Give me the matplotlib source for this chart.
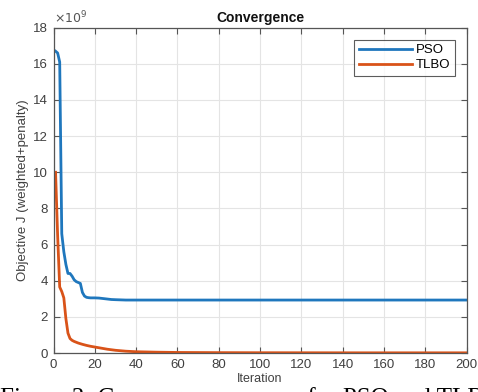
import matplotlib
matplotlib.use("Agg")
import matplotlib.pyplot as plt
from matplotlib.ticker import FuncFormatter

# ---- data (values in units of the objective J) ----
pso_iter = [1, 2, 3, 4, 5, 6, 7, 8, 9, 10, 11, 12, 13, 14, 15, 16, 17, 18, 20, 22,
            25, 28, 30, 35, 40, 60, 100, 150, 200]
pso_val = [16.7e9, 16.6e9, 16.1e9, 6.6e9, 5.6e9, 4.9e9, 4.4e9, 4.4e9, 4.25e9, 4.05e9,
           3.95e9, 3.9e9, 3.85e9, 3.35e9, 3.15e9, 3.08e9, 3.06e9, 3.05e9, 3.05e9, 3.04e9,
           3.0e9, 2.96e9, 2.95e9, 2.93e9, 2.93e9, 2.93e9, 2.93e9, 2.93e9, 2.93e9]

tlbo_iter = [1, 2, 3, 4, 5, 6, 7, 8, 9, 10, 12, 14, 16, 18, 20, 23, 26, 30, 35, 40,
             50, 60, 80, 100, 150, 200]
tlbo_val = [10.0e9, 6.5e9, 3.65e9, 3.4e9, 3.05e9, 1.9e9, 1.1e9, 0.8e9, 0.7e9, 0.64e9,
            0.55e9, 0.48e9, 0.42e9, 0.37e9, 0.33e9, 0.27e9, 0.21e9, 0.15e9, 0.1e9, 0.07e9,
            0.045e9, 0.03e9, 0.02e9, 0.015e9, 0.01e9, 0.01e9]

series_names = ["PSO", "TLBO"]
x_ticks = [0, 20, 40, 60, 80, 100, 120, 140, 160, 180, 200]
y_ticks = [0, 2e9, 4e9, 6e9, 8e9, 10e9, 12e9, 14e9, 16e9, 18e9]

title = "Convergence"
xlabel = "Iteration"
ylabel = "Objective J (weighted+penalty)"
caption = "Figure 3: Convergence curves for PSO and TLBO"

plt.rcParams['font.family'] = ['Liberation Sans', 'DejaVu Sans']

fig = plt.figure(figsize=(4.78, 3.92), dpi=100)
ax = fig.add_axes([53.5 / 478, 1 - 353 / 392, (466.7 - 53.5) / 478, (353 - 27.7) / 392])

ax.plot(pso_iter, pso_val, color='#1f77bd', lw=2.0, label=series_names[0])
ax.plot(tlbo_iter, tlbo_val, color='#D95319', lw=2.0, label=series_names[1])

ax.set_xlim(0, 200)
ax.set_ylim(0, 18e9)
ax.set_xticks(x_ticks)
ax.set_yticks(y_ticks)
ax.yaxis.set_major_formatter(FuncFormatter(lambda v, p: f"{v / 1e9:g}"))
ax.xaxis.set_major_formatter(FuncFormatter(lambda v, p: f"{v:g}"))

ax.grid(True, color='#e4e4e4', lw=0.8)
ax.set_axisbelow(True)
for s in ax.spines.values():
    s.set_color('#555555')
    s.set_linewidth(0.9)
ax.tick_params(direction='in', length=4, width=0.8, colors='#555555',
               labelcolor='#404040', labelsize=9.5, top=True, right=True, pad=4)

ax.set_title(title, fontsize=10, fontweight='bold', color='#111111', pad=4)
ax.set_xlabel(xlabel, fontsize=9, color='#404040', labelpad=2)
ax.set_ylabel(ylabel, fontsize=9.5, color='#404040', labelpad=3)

ax.text(0.0, 1.005, r"$\times10^{9}$", transform=ax.transAxes, fontsize=9,
        color='#555555', ha='left', va='bottom')

leg = ax.legend(loc='upper right', fontsize=9.5, handlelength=4.0, frameon=True,
                fancybox=False, borderpad=0.35, labelspacing=0.2, handletextpad=0.3,
                borderaxespad=0.9)
leg.get_frame().set_edgecolor('#333333')
leg.get_frame().set_linewidth(0.8)

fig.text(0.0, -13.5 / 392, caption, fontsize=18, family=['Liberation Serif'],
         ha='left', va='baseline', color='#000000')

fig.savefig("out.png", dpi=100)
